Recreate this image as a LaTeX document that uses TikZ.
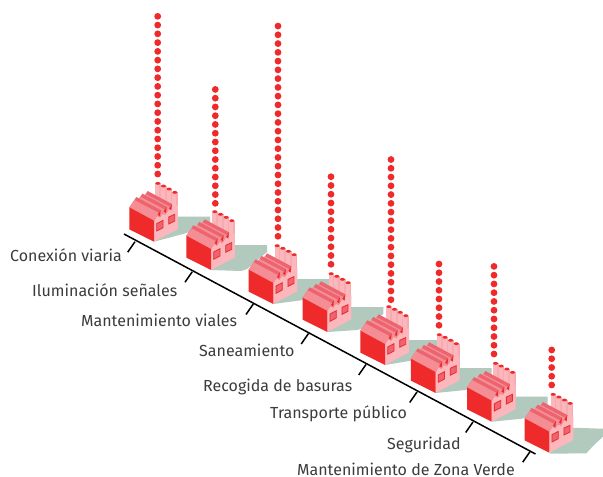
\documentclass[tikz,border=0pt]{standalone}
\usepackage{fontspec}
\setmainfont{Fira Sans}
\definecolor{fred}{HTML}{EE2A2A}
\definecolor{fpink}{HTML}{FBB7BC}
\definecolor{fpinkd}{HTML}{F8AAB1}
\definecolor{froof}{HTML}{EC6470}
\definecolor{froofl}{HTML}{F58E94}
\definecolor{fshadow}{HTML}{B2C9BE}
\definecolor{ftext}{HTML}{3C3C3C}
\tikzset{
  lab/.style={anchor=base west,inner sep=0pt,text=ftext,font=\fontsize{16}{18}\selectfont},
  axisline/.style={line width=1.5pt,black},
  dotmark/.style={fill=fred,draw=none},
}
\newcommand{\facshadow}[3]{%
  \fill[fshadow,shift={(#1,#2)}] (0,0) -- (30,#3) -- (36,#3-2) -- (56,-18) -- (56,-25) -- (22,-25) -- cycle;}
\newcommand{\facstack}[2]{%
  \fill[fpink] (#1,#2) rectangle (#1+17,140);
  \fill[fpinkd] (#1+12,#2) rectangle (#1+17,140);
  \fill[fred] (#1+7.5,#2) ellipse (7.5 and 4.3);}
\newcommand{\factooth}[2]{%
  \begin{scope}[shift={(#1,#2)}]
  \fill[froof] (14,97) -- (35,66) -- (108,105) -- (88,137) -- cycle;
  \fill[froofl] (14,97) -- (29,75) -- (103,114) -- (88,137) -- cycle;
  \fill[fred] (108,105) -- (106,124) -- (99,119) -- cycle;
  \end{scope}}
\newcommand{\factory}[2]{%
  \begin{scope}[shift={(#1-29.33,#2-66.67)},x=0.3333pt,y=-0.3333pt]
    \facstack{92}{25}\facstack{109}{33}\facstack{126}{42}\facstack{143}{52}
    \fill[fpink] (88,200) -- (160,162) -- (160,90) -- (108,95) -- (88,137) -- cycle;
    \factooth{34}{-18}
    \factooth{18}{-10}
    \factooth{0}{0}
    \fill[fred] (14,97) -- (14,163) -- (88,200) -- (88,137) -- cycle;
    \fill[froof,draw=fred,line width=.8pt] (96,146) -- (115,136) -- (115,158) -- (96,168) -- cycle;
    \fill[froof,draw=fred,line width=.8pt] (132,126) -- (150,118) -- (150,138) -- (132,147) -- cycle;
  \end{scope}}
\begin{document}
\begin{tikzpicture}[x=1pt,y=-1pt]
\useasboundingbox (0,0) rectangle (603,477);
\fill[white] (0,0) rectangle (603,477);
% ground shadows
\facshadow{154}{241.7}{-8}
\facshadow{211}{270}{1}
\facshadow{273.3}{304}{-4}
\facshadow{327.3}{332}{-2}
\facshadow{385}{365}{-5}
\facshadow{435.5}{393}{-3}
\facshadow{491.7}{421.7}{-3}
\fill[fshadow,shift={(549.3,452.7)}] (0,1) -- (37,0.6) -- (45,-8) -- (53.7,-16) -- (53.7,-24) -- (22,-25) -- cycle;
% axis
\coordinate (axisA) at (124,234);
\coordinate (axisB) at (535.5,454);
\draw[axisline] (axisA) -- (axisB);
\foreach \tx/\ty in {135/241.7,192.3/271.7,253.3/304,308.5/333.5,366/364.5,417/392,473/422,530/451.7}
  \draw[axisline] (\tx,\ty) -- ++(-7.3,10.5);
% factories
\factory{154}{241.7}
\factory{211}{270}
\factory{273.3}{304}
\factory{327.3}{332}
\factory{385}{365}
\factory{435.5}{393}
\factory{491.7}{421.7}
\factory{549.3}{452.7}
% dotted columns
\foreach \dx/\dy/\dn in {157.7/174/19,215.3/203.3/14,278/236.3/25,331/264.3/11,391/299.7/17,439/325.3/8,494/354/11,551.7/385/5}
  \foreach \di in {1,...,\dn}
    \fill[dotmark] (\dx,\dy-8.76*\di+8.76) circle (3.4);
% labels
\node[lab] (l1) at (10,261) {Conexión viaria};
\node[lab] (l2) at (32,296.7) {Iluminación señales};
\node[lab] (l3) at (81,326.7) {Mantenimiento viales};
\node[lab] (l4) at (199,356.7) {Saneamiento};
\node[lab] (l5) at (203,391.7) {Recogida de basuras};
\node[lab] (l6) at (270,418.8) {Transporte público};
\node[lab] (l7) at (387,449) {Seguridad};
\node[lab] (l8) at (297,475.7) {Mantenimiento de Zona Verde};
\end{tikzpicture}
\end{document}
